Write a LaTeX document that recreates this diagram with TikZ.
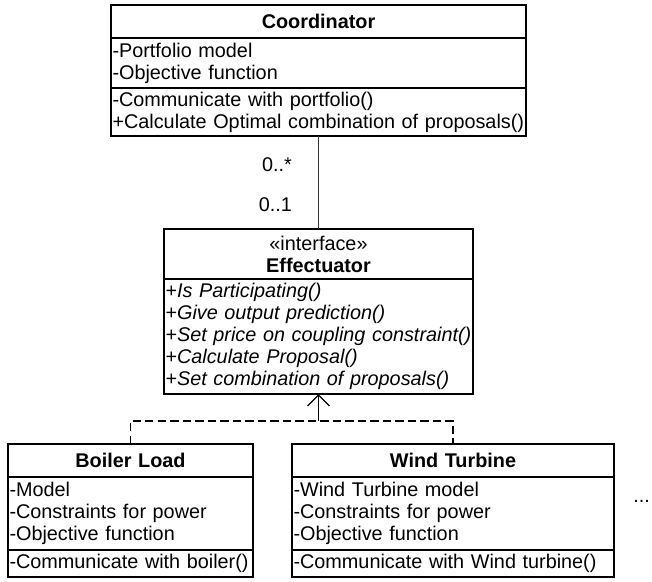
\documentclass[tikz,border=0pt]{standalone}
\usepackage{fontspec}
\setmainfont{Liberation Sans}
\usepackage{tikz}
\usetikzlibrary{arrows.meta,positioning}
\newcommand{\pxu}{0.025cm}
\newcommand{\umlfont}{\fontsize{14.1}{15.6}\selectfont}
\tikzset{
  part/.style={draw=black,line width=0.8pt,outer sep=0pt,inner xsep=1.5*\pxu,inner ysep=0pt,font=\umlfont},
  head/.style={part,align=center},
  comp/.style={part,align=left},
  assoc/.style={draw=black!80,line width=0.8pt},
  mult/.style={font=\umlfont,inner sep=0pt,anchor=east,xshift=-26*\pxu},
  real/.style={draw=black,line width=1.3pt,dash pattern=on 6pt off 2.9pt},
  realtip/.style={draw=black,line width=1.3pt,-{Straight Barb[length=7.8pt,width=15.6pt,line width=0.9pt]}},
}
\begin{document}
\begin{tikzpicture}[x=\pxu,y=-\pxu]
  \useasboundingbox (0,0) rectangle (652,581);
  % coordinator
  \node[head,text width=412*\pxu,minimum height=33*\pxu,anchor=north] (coordT) at (318.5,5) {\textbf{Coordinator}};
  \node[comp,text width=412*\pxu,minimum height=50*\pxu,below=0pt of coordT] (coordA) {-Portfolio model\\-Objective function};
  \node[comp,text width=412*\pxu,minimum height=48*\pxu,below=0pt of coordA] (coordM) {-Communicate with portfolio()\\+Calculate Optimal combination of proposals()};
  % interface
  \node[head,text width=306*\pxu,minimum height=50*\pxu,anchor=north] (effT) at (318.5,229) {«interface»\\\textbf{Effectuator}};
  \node[comp,text width=306*\pxu,minimum height=115*\pxu,below=0pt of effT] (effM) {+\textit{Is Participating()}\\+\textit{Give output prediction()}\\+\textit{Set price on coupling constraint()}\\+\textit{Calculate Proposal()}\\+\textit{Set combination of proposals()}};
  % boiler
  \node[head,text width=242*\pxu,minimum height=33*\pxu,anchor=north] (boilT) at (130.5,444) {\textbf{Boiler Load}};
  \node[comp,text width=242*\pxu,minimum height=73*\pxu,below=0pt of boilT] (boilA) {-Model\\-Constraints for power\\-Objective function};
  \node[comp,text width=242*\pxu,minimum height=27*\pxu,below=0pt of boilA] (boilM) {-Communicate with boiler()};
  % wind turbine
  \node[head,text width=319*\pxu,minimum height=33*\pxu,anchor=north] (windT) at (453,444) {\textbf{Wind Turbine}};
  \node[comp,text width=319*\pxu,minimum height=73*\pxu,below=0pt of windT] (windA) {-Wind Turbine model\\-Constraints for power\\-Objective function};
  \node[comp,text width=319*\pxu,minimum height=27*\pxu,below=0pt of windA] (windM) {-Communicate with Wind turbine()};
  \node[font=\umlfont,inner sep=0pt,anchor=base west] (more) at (633,502) {...};
  % connectors
  \draw[assoc] (coordM.south) -- (effT.north)
    node[mult,pos=0.31] (multA) {0..*}
    node[mult,pos=0.74] (multB) {0..1};
  \coordinate (junc) at (318.5,421);
  \draw[real] (boilT.north) |- (junc) -| (windT.north);
  \draw[realtip] (junc) -- (effM.south);
\end{tikzpicture}
\end{document}
